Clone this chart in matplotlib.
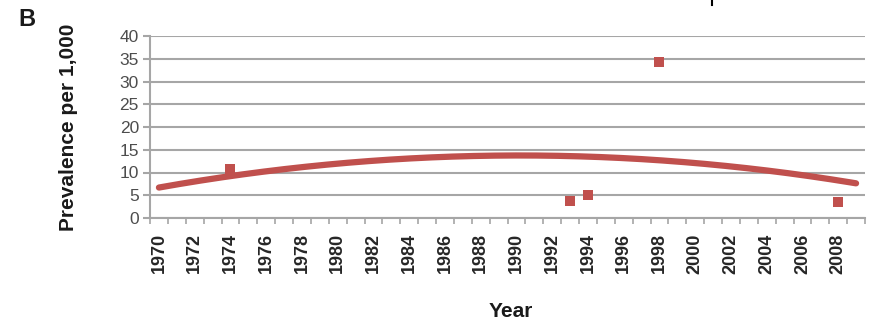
import numpy as np
import matplotlib
matplotlib.use("Agg")
import matplotlib.pyplot as plt

# Data
years = list(range(1970, 2010))
obs_years = [1974, 1993, 1994, 1998, 2008]
obs_values = [10.7, 3.7, 5.05, 34.3, 3.5]
yticks = [0, 5, 10, 15, 20, 25, 30, 35, 40]
xtick_labels = [str(y) for y in range(1970, 2010, 2)]

red = "#c0504d"
grid_c = "#a6a6a6"

plt.rcParams['font.family'] = ['Liberation Sans', 'DejaVu Sans']

fig = plt.figure(figsize=(8.77, 3.21), dpi=100)
ax = fig.add_axes([150/877, 1-218/321, 715/877, 182/321])

idx = {y: i for i, y in enumerate(years)}
ox = np.array([idx[y] for y in obs_years], dtype=float)
oy = np.array(obs_values)

# Excel-style 2nd-order polynomial trendline over category positions
coef = np.polyfit(ox, oy, 2)
tx = np.linspace(0, len(years) - 1, 300)
ax.plot(tx, np.polyval(coef, tx), color=red, lw=4.5, solid_capstyle='round', zorder=3)
ax.scatter(ox, oy, marker='s', s=62, color=red, zorder=4, linewidths=0)

ax.set_xlim(-0.5, len(years) - 0.5)
ax.set_ylim(0, 40)
ax.set_yticks(yticks)
ax.yaxis.grid(True, color=grid_c, lw=1.5)
ax.set_axisbelow(True)

ax.set_xticks(np.arange(0, len(years), 2))
ax.set_xticklabels(xtick_labels, rotation=90, fontweight='bold', fontsize=13, color='#262626')
ax.set_xticks(np.arange(-0.5, len(years), 1), minor=True)
ax.tick_params(axis='x', which='major', length=0, pad=11)
ax.tick_params(axis='x', which='minor', length=4, width=1.2, color=grid_c, direction='out')
ax.tick_params(axis='y', length=5, width=1.5, color=grid_c, pad=3, labelsize=12.5, labelcolor='#4d4d4d')

for s in ['top', 'right']:
    ax.spines[s].set_visible(False)
for s in ['left', 'bottom']:
    ax.spines[s].set_color(grid_c)
    ax.spines[s].set_linewidth(1.5)

ax.set_ylabel("Prevalence per 1,000", fontsize=15, fontweight='bold', color='#1a1a1a')
ax.yaxis.set_label_coords(-0.101, 0.5)
ax.set_xlabel("Year", fontsize=15, fontweight='bold', color='#1a1a1a')
ax.xaxis.set_label_coords(0.505, -0.46)

fig.text(18/877, 1-20/321, "B", fontsize=17, fontweight='bold', color='#1a1a1a', va='center', ha='left')
fig.add_artist(plt.Line2D([712/877, 712/877], [1, 1-5/321], color='black', lw=1.5))

fig.savefig("out.png", dpi=100)
